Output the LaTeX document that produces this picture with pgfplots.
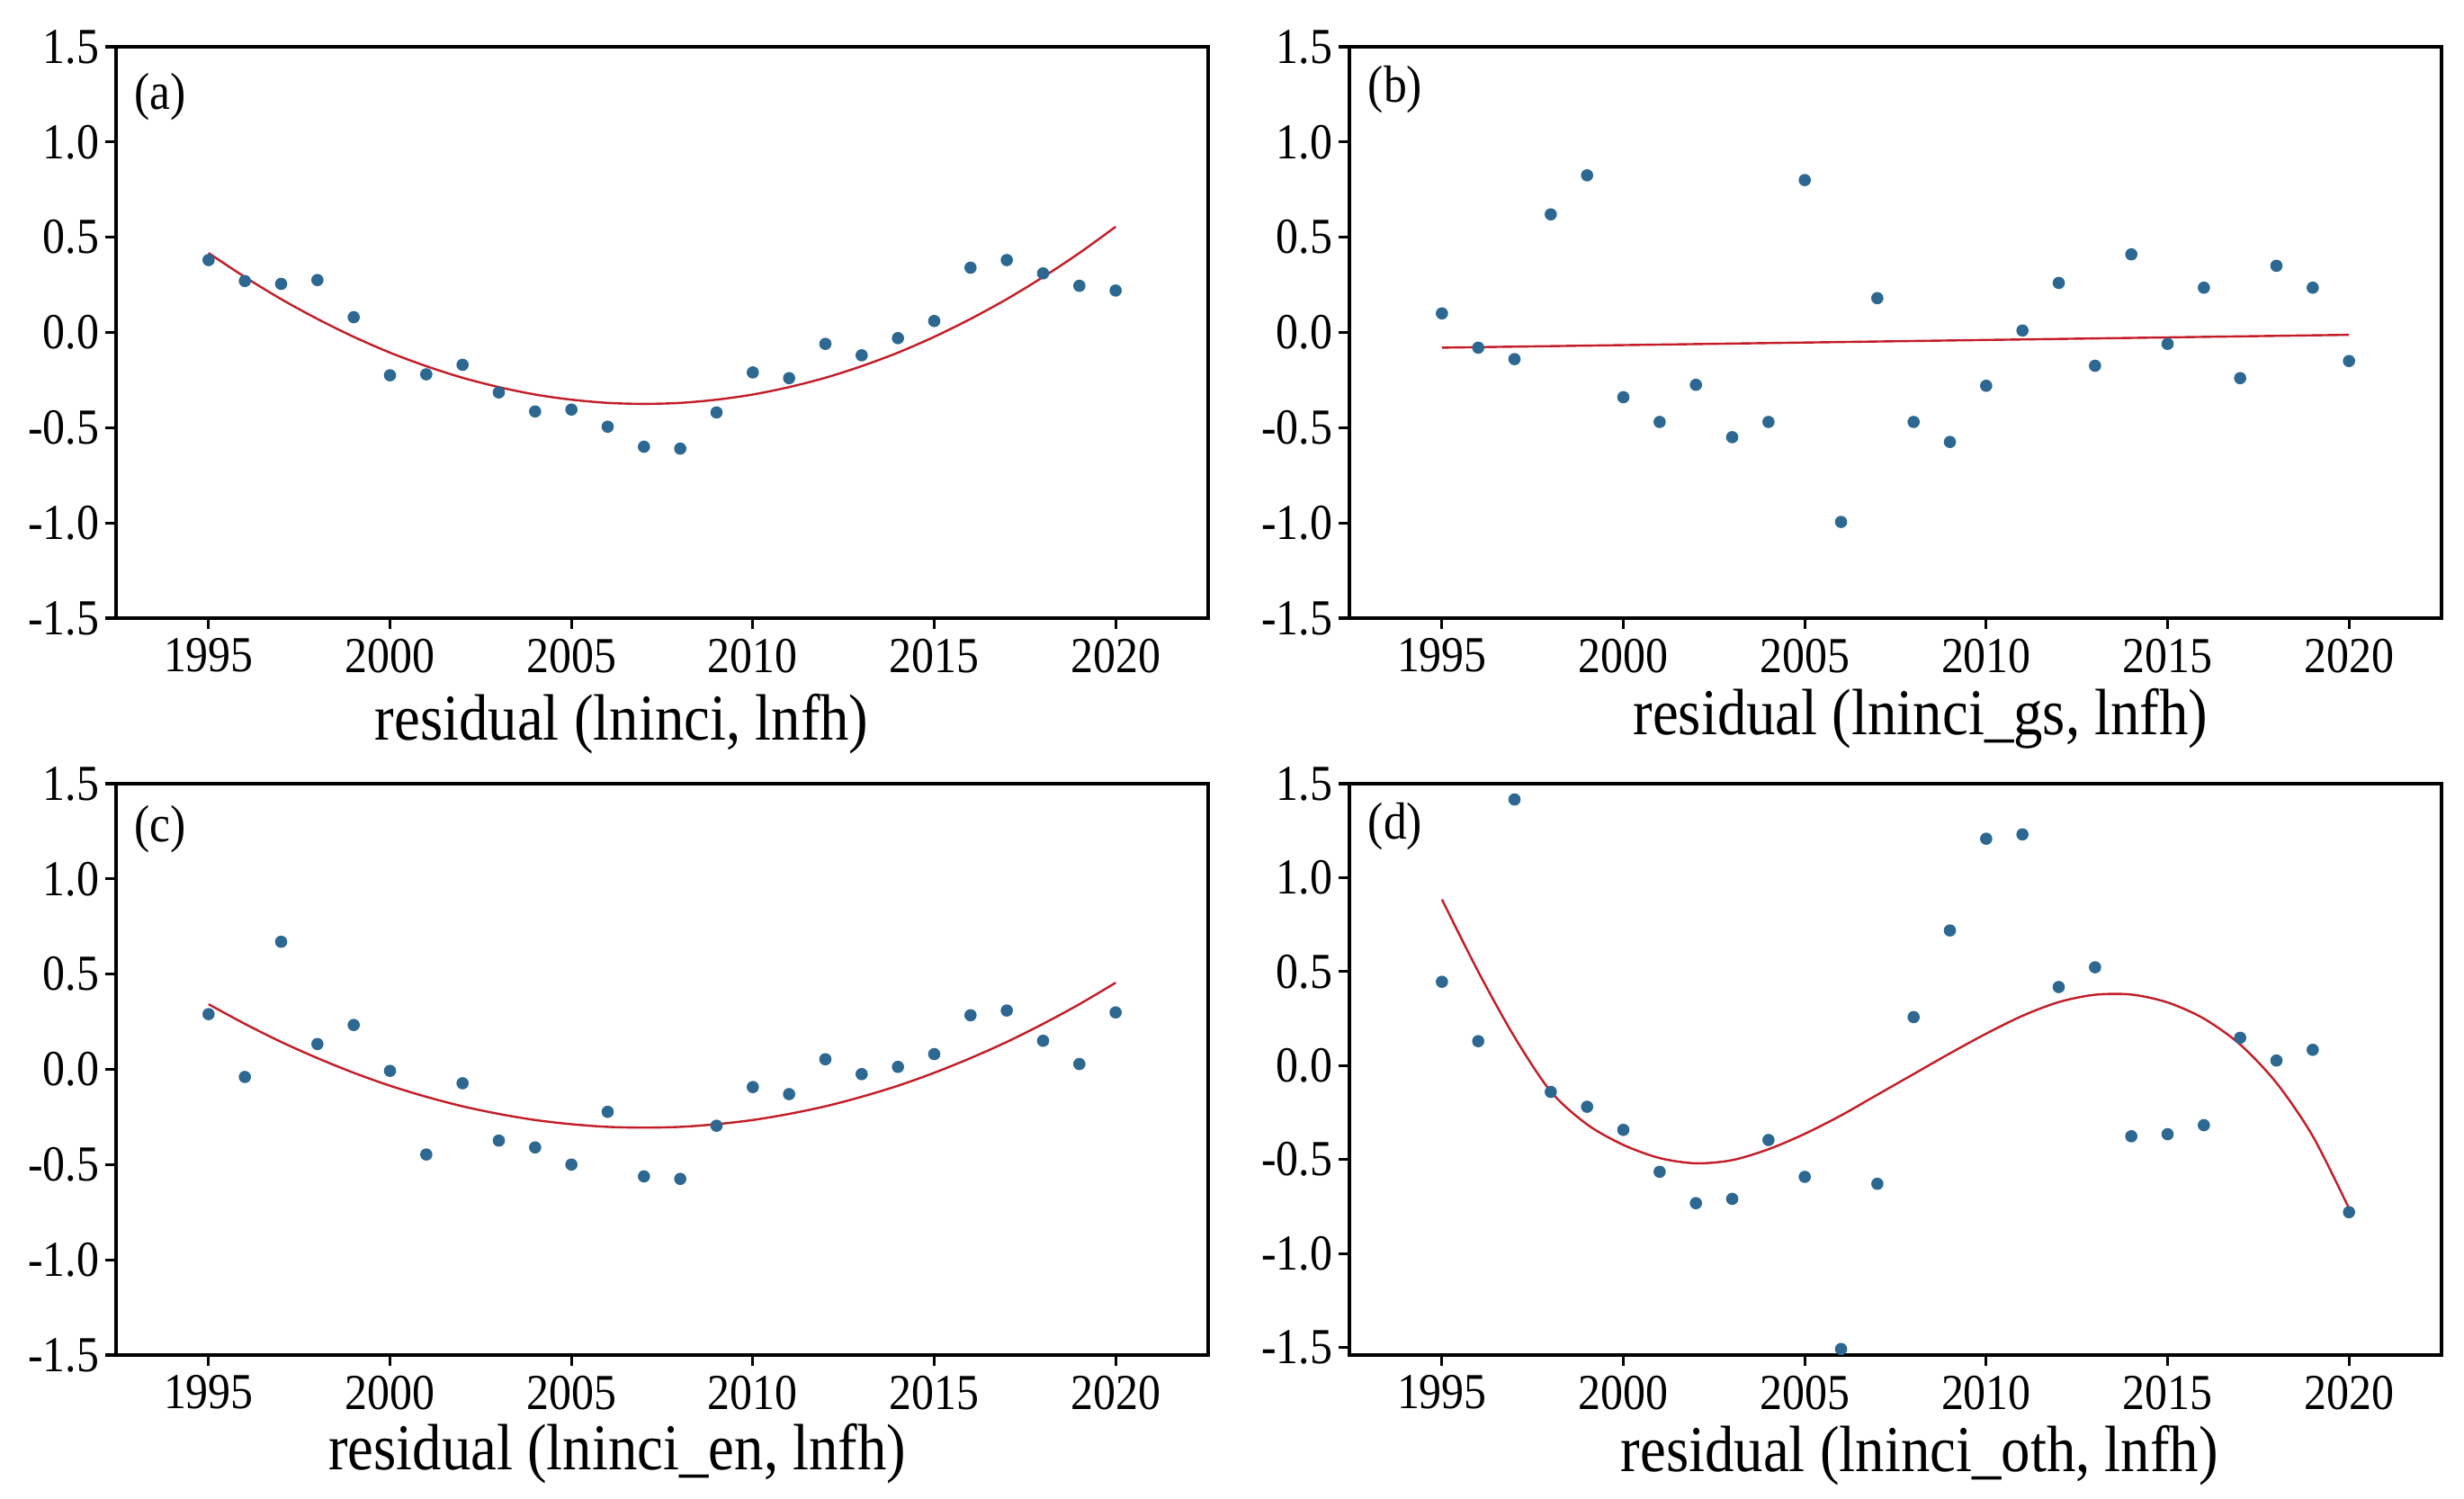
\documentclass[border=0pt]{standalone}
\usepackage{fontspec}
\setmainfont{Liberation Serif}[FakeStretch=0.89]
\usepackage{pgfplots}
\pgfplotsset{compat=1.18}
\usepackage{pgfplotstable}

\definecolor{dotblue}{RGB}{44,104,145}
\definecolor{fitred}{RGB}{195,28,38}

% residuals, one column per panel
\pgfplotstableread{
x    a      b      c      d
1995 0.38   0.10   0.29   0.446
1996 0.27  -0.08  -0.04   0.13
1997 0.255 -0.14   0.67   1.416
1998 0.275  0.62   0.133 -0.14
1999 0.08   0.825  0.233 -0.219
2000 -0.225 -0.34 -0.008 -0.342
2001 -0.22 -0.47  -0.447 -0.565
2002 -0.17 -0.275 -0.073 -0.732
2003 -0.315 -0.55 -0.374 -0.709
2004 -0.415 -0.47 -0.41  -0.396
2005 -0.405 0.80  -0.50  -0.592
2006 -0.495 -0.995 -0.223 -1.508
2007 -0.60  0.18  -0.562 -0.629
2008 -0.61 -0.47  -0.575  0.258
2009 -0.42 -0.575 -0.296  0.719
2010 -0.21 -0.28  -0.093  1.207
2011 -0.24  0.01  -0.13   1.23
2012 -0.06  0.26   0.053  0.418
2013 -0.12 -0.175 -0.025  0.523
2014 -0.03  0.41   0.013 -0.376
2015 0.06  -0.06   0.08  -0.365
2016 0.34   0.235  0.284 -0.317
2017 0.38  -0.24   0.309  0.148
2018 0.31   0.35   0.15   0.027
2019 0.245  0.235  0.028  0.084
2020 0.22  -0.15   0.299 -0.78
}\resid

% fitted curves
\pgfplotstableread{
x    fa     fc     fd
1995 0.417  0.342  0.884
1996 0.291  0.239  0.50
1997 0.175  0.144  0.152
1998 0.071  0.059 -0.138
1999 -0.023 -0.018 -0.313
2000 -0.106 -0.086 -0.422
2001 -0.177 -0.144 -0.492
2002 -0.238 -0.194 -0.52
2003 -0.287 -0.234 -0.503
2004 -0.326 -0.266 -0.445
2005 -0.353 -0.288 -0.363
2006 -0.370 -0.302 -0.265
2007 -0.375 -0.306 -0.155
2008 -0.370 -0.302 -0.045
2009 -0.353 -0.288  0.065
2010 -0.326 -0.266  0.170
2011 -0.287 -0.234  0.265
2012 -0.238 -0.194  0.338
2013 -0.177 -0.144  0.377
2014 -0.106 -0.086  0.378
2015 -0.023 -0.018  0.336
2016 0.071  0.059  0.250
2017 0.175  0.144  0.112
2018 0.291  0.239 -0.092
2019 0.417  0.342 -0.375
2020 0.555  0.455 -0.76
}\fits

\pgfplotsset{
  resid/.style={
    width=303.5pt, height=158.75pt, scale only axis, anchor=south west,
    xmin=1992.45, xmax=2022.55, ymin=-1.5, ymax=1.5,
    xtick={1995,2000,2005,2010,2015,2020},
    xticklabels={1995,2000,2005,2010,2015,2020},
    ytick={-1.5,-1.0,-0.5,0,0.5,1.0,1.5},
    yticklabels={-1.5,-1.0,-0.5,0.0,0.5,1.0,1.5},
    tick pos=left, tick align=outside, major tick length=3pt,
    axis line style={line width=0.8pt},
    every tick/.style={black, line width=0.8pt},
    tick label style={font=\fontsize{14}{16}\selectfont},
    yticklabel style={inner sep=1.5pt},
    xticklabel style={inner sep=2.5pt},
    label style={font=\fontsize{18.2}{21}\selectfont},
    clip=false,
  },
  dots/.style={only marks, mark=*, mark size=1.5pt, dotblue},
  fit/.style={fitred, line width=0.6pt, no markers, smooth},
}
\tikzset{panel/.style={anchor=west, inner sep=0pt, xshift=5pt,
    font=\fontsize{14.5}{16}\selectfont}}

\begin{document}
\begin{tikzpicture}
\useasboundingbox (0,0) rectangle (684.75pt,416.5pt);

% (a)
\begin{axis}[resid, at={(32.25pt,244.75pt)},
  xlabel={residual (lninci, lnfh)},
  xlabel style={at={(axis description cs:0.463,0)}, anchor=center, yshift=-29.5pt}]
  \addplot[fit] table[x=x, y=fa] {\fits};
  \addplot[dots] table[x=x, y=a] {\resid};
  \node[panel, yshift=-14pt] at (rel axis cs:0,1) {(a)};
\end{axis}

% (b)
\begin{axis}[resid, at={(375pt,244.75pt)},
  xlabel={residual (lninci\_gs, lnfh)},
  xlabel style={at={(axis description cs:0.523,0)}, anchor=center, yshift=-28pt}]
  \addplot[fitred, line width=0.6pt, no markers] coordinates {(1995,-0.08) (2020,-0.0125)};
  \addplot[dots] table[x=x, y=b] {\resid};
  \node[panel, yshift=-12pt] at (rel axis cs:0,1) {(b)};
\end{axis}

% (c)
\begin{axis}[resid, at={(32.25pt,40pt)},
  xlabel={residual (lninci\_en, lnfh)},
  xlabel style={at={(axis description cs:0.459,0)}, anchor=center, yshift=-27.5pt}]
  \addplot[fit] table[x=x, y=fc] {\fits};
  \addplot[dots] table[x=x, y=c] {\resid};
  \node[panel, yshift=-12.7pt] at (rel axis cs:0,1) {(c)};
\end{axis}

% (d)
\begin{axis}[resid, at={(375pt,40pt)}, ymin=-1.54,
  xlabel={residual (lninci\_oth, lnfh)},
  xlabel style={at={(axis description cs:0.522,0)}, anchor=center, yshift=-28pt}]
  \addplot[fit] table[x=x, y=fd] {\fits};
  \addplot[dots] table[x=x, y=d] {\resid};
  \node[panel, yshift=-12pt] at (rel axis cs:0,1) {(d)};
\end{axis}
\end{tikzpicture}
\end{document}
